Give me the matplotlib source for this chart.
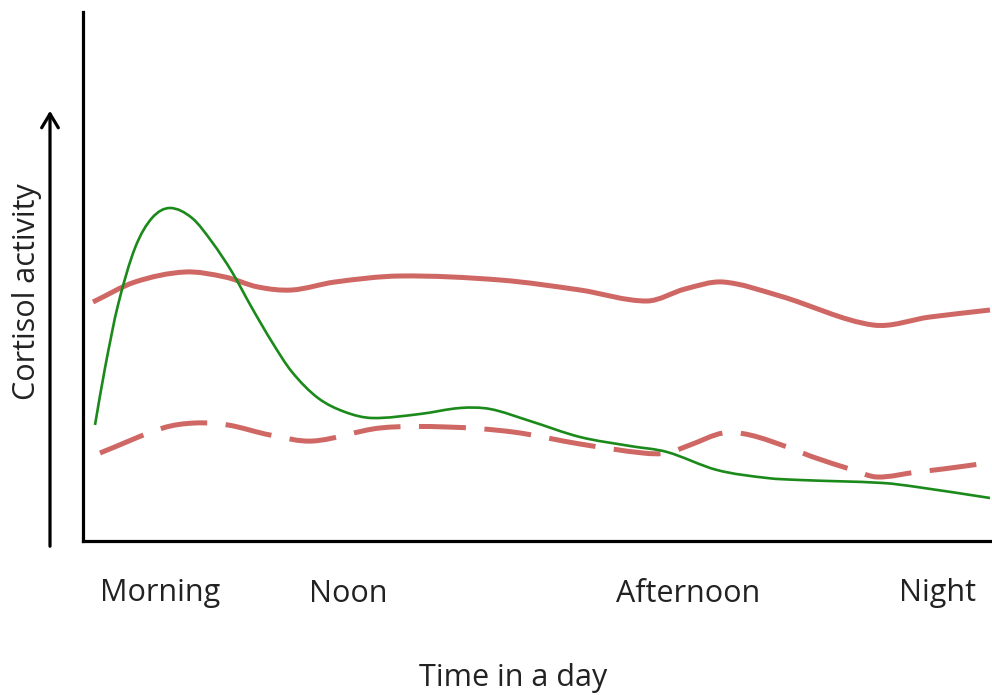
import numpy as np
import matplotlib
matplotlib.use("Agg")
import matplotlib.pyplot as plt
from matplotlib.path import Path
from matplotlib.patches import PathPatch, FancyArrowPatch

# ---- data (x: position along the day, y: relative cortisol activity) ----
tick_pos = [160, 348, 688, 938]
tick_labels = ["Morning", "Noon", "Afternoon", "Night"]

red_x = [93, 135, 185, 225, 258, 292, 335, 400, 500, 580, 647, 685, 723, 780, 873, 930, 990]
red_y = [239, 259, 269, 264, 254, 251, 259, 265, 261, 251, 240, 252, 259, 245, 216, 224, 231]

green_x = [95, 105, 118, 135, 152, 170, 192, 212, 232, 252, 272, 292, 318, 345, 372,
           420, 460, 490, 530, 580, 630, 667, 717, 767, 800, 883, 917, 990]
green_y = [116, 173, 236, 293, 323, 333, 323, 299, 269, 233, 199, 169, 143, 129, 123,
           127, 133, 132, 120, 104, 95, 89, 71, 63, 61, 58, 54, 43]

dash_x = [100, 163, 195, 228, 270, 313, 380, 447, 513, 580, 643, 667, 690, 723, 750, 790,
          813, 853, 877, 917, 943, 987]
dash_y = [88, 113, 118, 116, 106, 100, 113, 114, 109, 97, 88, 88, 96, 108, 106, 93,
          84, 71, 64, 69, 72, 78]

RED = "#CF6864"
GREEN = "#1B8A1B"
TEXT = "#222222"

W, H = 992, 695
fig = plt.figure(figsize=(W / 100, H / 100), dpi=100)
ax = fig.add_axes([83 / W, 1 - 541 / H, 1 - 83 / W, (541 - 12) / H])
ax.set_xlim(83, 992)
ax.set_ylim(0, 529)


def smooth_path(xs, ys):
    x = np.asarray(xs, float)
    y = np.asarray(ys, float)
    n = len(x)
    m = np.zeros(n)
    m[0] = (y[1] - y[0]) / (x[1] - x[0])
    m[-1] = (y[-1] - y[-2]) / (x[-1] - x[-2])
    for i in range(1, n - 1):
        m[i] = (y[i + 1] - y[i - 1]) / (x[i + 1] - x[i - 1])
    verts = [(x[0], y[0])]
    codes = [Path.MOVETO]
    for i in range(n - 1):
        h = x[i + 1] - x[i]
        verts += [(x[i] + h / 3, y[i] + m[i] * h / 3),
                  (x[i + 1] - h / 3, y[i + 1] - m[i + 1] * h / 3),
                  (x[i + 1], y[i + 1])]
        codes += [Path.CURVE4] * 3
    return Path(verts, codes)


ax.add_patch(PathPatch(smooth_path(red_x, red_y), fill=False, edgecolor=RED,
                       lw=3.6, capstyle="butt", joinstyle="round"))
ax.add_patch(PathPatch(smooth_path(dash_x, dash_y), fill=False, edgecolor=RED,
                       lw=3.6, linestyle=(0, (9.4, 3.7)), capstyle="butt"))
ax.add_patch(PathPatch(smooth_path(green_x, green_y), fill=False, edgecolor=GREEN,
                       lw=1.9, capstyle="butt"))

for s in ["top", "right"]:
    ax.spines[s].set_visible(False)
for s in ["left", "bottom"]:
    ax.spines[s].set_linewidth(2.3)
    ax.spines[s].set_color("black")

FS = 22
ax.set_yticks([])
ax.set_xticks(tick_pos)
ax.set_xticklabels(tick_labels, fontsize=FS, color=TEXT, family="Open Sans")
ax.tick_params(axis="x", length=0, pad=27)

fig.text(513 / W, 1 - 678 / H, "Time in a day", ha="center", va="center",
         fontsize=FS, color=TEXT, family="Open Sans")
fig.text(27 / W, 1 - 292 / H, "Cortisol activity", ha="center", va="center",
         rotation=90, fontsize=FS, color=TEXT, family="Open Sans")

arrow = FancyArrowPatch((50 / W, 1 - 549 / H), (50 / W, 1 - 108 / H),
                        transform=fig.transFigure, arrowstyle="->,head_length=10,head_width=6",
                        color="black", lw=2.3, mutation_scale=1)
fig.patches.append(arrow)

fig.savefig("out.png", dpi=100)
